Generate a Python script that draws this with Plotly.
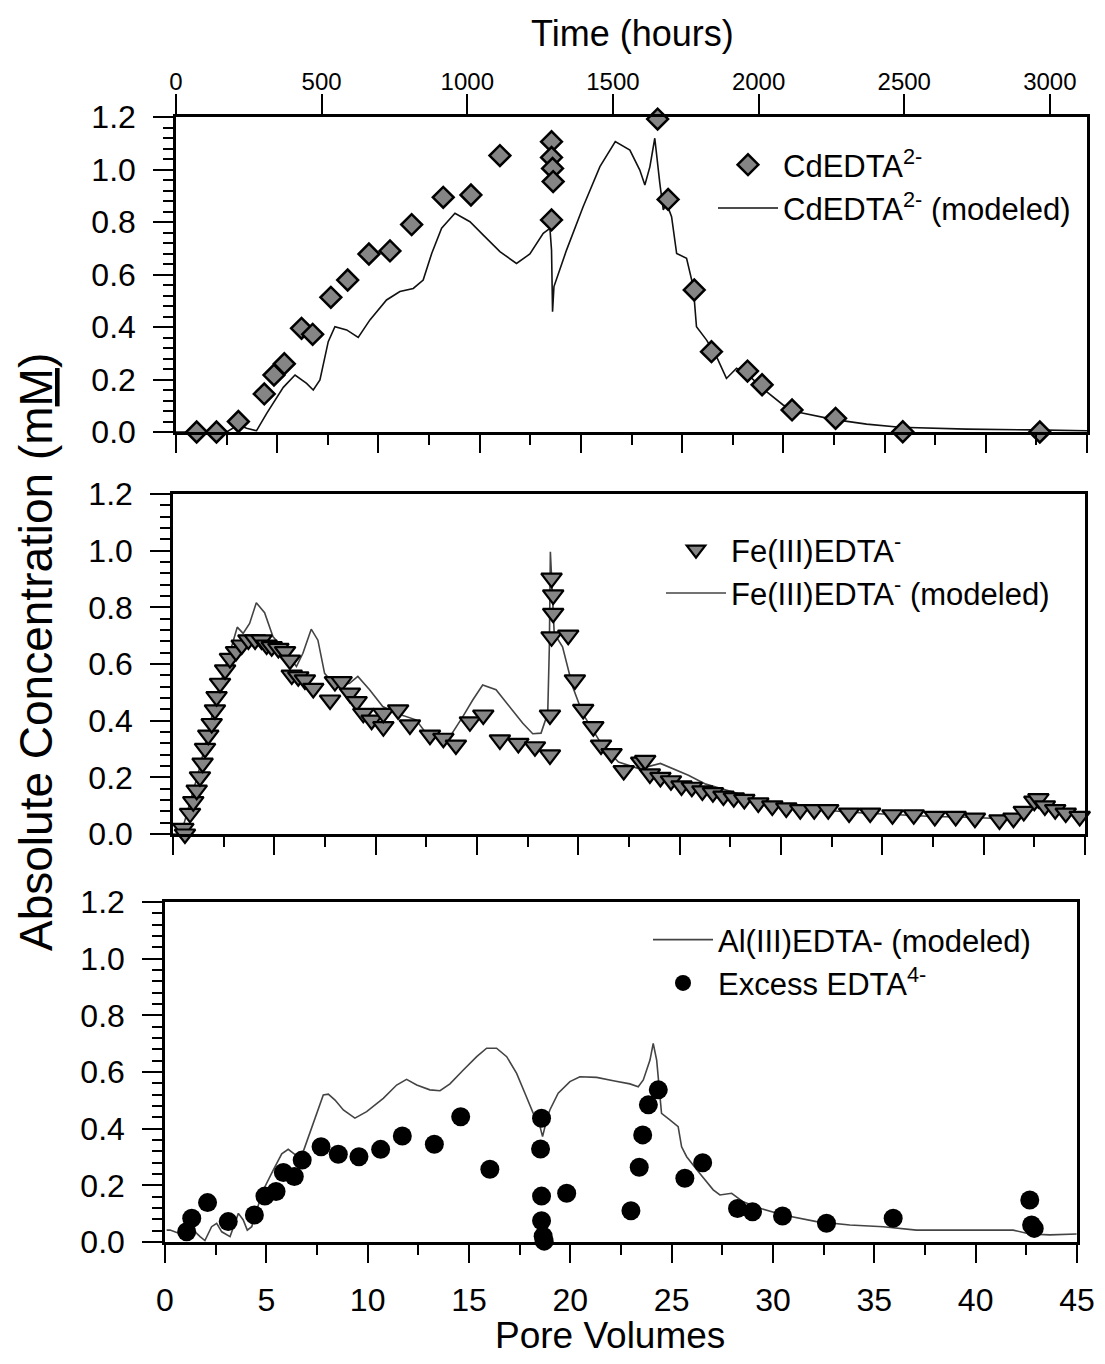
import plotly.graph_objects as go

# ---------------- data ----------------
# Top panel: CdEDTA2- observed
cd_pv = [1.02, 2.0, 3.08, 4.36, 4.84, 5.35, 6.2, 6.75, 7.65, 8.48, 9.53, 10.57, 11.64,
         13.2, 14.57, 16.0, 18.55, 18.55, 18.6, 18.63, 18.55, 23.79, 24.31, 25.6, 26.45,
         28.23, 28.95, 30.43, 32.58, 35.9, 42.67]
cd_obs = [0.0, 0.0, 0.04, 0.145, 0.217, 0.26, 0.395, 0.372, 0.513, 0.579, 0.678, 0.69, 0.79,
          0.894, 0.903, 1.053, 1.106, 1.046, 1.004, 0.954, 0.808, 1.192, 0.886, 0.541, 0.306,
          0.232, 0.18, 0.084, 0.052, 0.001, 0.0]

# Top panel: CdEDTA2- modeled
cdm_pv = [0.0, 2.5, 3.08, 3.49, 3.98, 4.48, 5.3, 5.88, 6.45, 6.78, 7.11, 7.52, 7.85, 8.43, 9.0,
          9.58, 10.4, 11.06, 11.72, 12.21, 12.63, 13.12, 13.78, 14.52, 15.18, 16.0, 16.82,
          17.48, 18.14, 18.47, 18.55, 18.6, 18.67, 18.88, 19.29, 20.11, 20.94, 21.7, 22.42,
          22.91, 23.16, 23.41, 23.65, 23.9, 24.07, 24.23, 24.48, 24.73, 25.22, 25.55, 25.71,
          26.21, 26.7, 27.19, 27.69, 28.35, 29.17, 29.99, 30.81, 32.46, 34.11, 35.75, 39.05,
          42.34, 45.0]
cdm_val = [0.0, 0.0, 0.027, 0.014, 0.005, 0.071, 0.17, 0.217, 0.185, 0.16, 0.198, 0.344, 0.401,
           0.389, 0.36, 0.427, 0.503, 0.535, 0.547, 0.579, 0.68, 0.776, 0.833, 0.801, 0.75, 0.687,
           0.642, 0.678, 0.757, 0.776, 0.693, 0.458, 0.554, 0.604, 0.693, 0.858, 1.011, 1.106,
           1.074, 0.998, 0.941, 1.011, 1.119, 0.947, 0.846, 0.871, 0.82, 0.68, 0.662, 0.554,
           0.401, 0.35, 0.287, 0.204, 0.243, 0.211, 0.154, 0.103, 0.074, 0.048, 0.03, 0.018,
           0.011, 0.008, 0.005]

# Middle panel: Fe(III)EDTA- observed
fe_pv = [0.51, 0.59, 0.84, 1.0, 1.17, 1.33, 1.46, 1.58, 1.74, 1.91, 2.07, 2.15, 2.32, 2.57,
         2.81, 3.11, 3.39, 3.72, 4.05, 4.37, 4.62, 4.87, 5.2, 5.53, 5.77, 5.86, 6.18, 6.51,
         6.92, 7.75, 7.99, 8.32, 8.73, 9.06, 9.39, 9.8, 10.38, 10.38, 11.11, 11.69, 12.68,
         13.34, 13.96, 14.65, 15.31, 16.13, 17.04, 17.86, 18.6, 18.6, 18.68, 18.76, 18.76,
         18.68, 19.5, 19.83, 20.24, 20.74, 21.12, 21.64, 22.24, 23.1, 23.3, 23.53, 24.05,
         24.57, 25.09, 25.6, 26.12, 26.64, 27.16, 27.67, 28.19, 28.88, 29.57, 30.26, 30.95,
         31.64, 32.33, 33.36, 34.4, 35.5, 36.55, 37.59, 38.62, 39.57, 40.78, 41.47, 41.98,
         42.5, 42.7, 43.02, 43.53, 44.05, 44.74]
fe_obs = [0.02, 0.0, 0.073, 0.114, 0.155, 0.202, 0.25, 0.302, 0.349, 0.39, 0.438, 0.485, 0.532,
          0.579, 0.62, 0.644, 0.667, 0.685, 0.685, 0.685, 0.667, 0.661, 0.655, 0.644, 0.614,
          0.561, 0.555, 0.544, 0.514, 0.473, 0.538, 0.538, 0.497, 0.467, 0.426, 0.402, 0.379,
          0.426, 0.438, 0.385, 0.349, 0.338, 0.314, 0.396, 0.42, 0.332, 0.32, 0.308, 0.279,
          0.42, 0.696, 0.779, 0.844, 0.903, 0.702, 0.544, 0.44, 0.379, 0.314, 0.284, 0.224,
          0.254, 0.26, 0.212, 0.2, 0.188, 0.17, 0.165, 0.152, 0.146, 0.134, 0.128, 0.122, 0.11,
          0.099, 0.092, 0.086, 0.086, 0.086, 0.074, 0.074, 0.068, 0.068, 0.062, 0.062, 0.056,
          0.05, 0.056, 0.08, 0.116, 0.125, 0.099, 0.086, 0.074, 0.062]

# Middle panel: Fe(III)EDTA- modeled
fem_pv = [0.0, 0.4, 1.33, 2.15, 2.89, 3.17, 3.46, 3.78, 4.11, 4.52, 4.93, 5.43, 6.09, 6.41,
          6.82, 7.15, 7.48, 8.05, 8.71, 9.12, 9.7, 10.35, 11.01, 11.99, 12.49, 13.15, 13.72,
          14.3, 14.79, 15.28, 15.94, 16.6, 17.26, 17.75, 18.16, 18.49, 18.57, 18.62, 18.73,
          18.81, 19.22, 19.72, 20.21, 21.12, 21.98, 23.02, 24.05, 25.09, 25.43, 26.29, 27.5,
          28.88, 30.6, 32.33, 34.05, 35.78, 37.5, 39.22, 40.95, 41.47, 42.16, 42.67, 43.19,
          44.05, 45.0]
fem_val = [0.0, 0.0, 0.237, 0.485, 0.661, 0.73, 0.708, 0.743, 0.816, 0.781, 0.697, 0.655, 0.591,
           0.638, 0.723, 0.684, 0.567, 0.52, 0.532, 0.556, 0.509, 0.45, 0.426, 0.403, 0.356,
           0.35, 0.35, 0.414, 0.473, 0.526, 0.509, 0.45, 0.391, 0.354, 0.356, 0.426, 0.661,
           0.996, 0.802, 0.708, 0.661, 0.52, 0.426, 0.32, 0.254, 0.23, 0.249, 0.219, 0.207,
           0.176, 0.152, 0.122, 0.099, 0.083, 0.074, 0.068, 0.062, 0.059, 0.054, 0.056, 0.083,
           0.107, 0.097, 0.074, 0.056]

# Bottom panel: Al(III)EDTA- modeled
al_pv = [0.08, 0.25, 0.9, 1.4, 1.73, 1.97, 2.3, 2.55, 2.8, 3.21, 3.62, 3.86, 4.06, 4.28, 4.52,
         4.93, 5.34, 5.76, 6.08, 6.5, 6.82, 7.15, 7.48, 7.81, 8.06, 8.39, 8.8, 9.37, 9.95,
         10.77, 11.43, 11.92, 12.42, 13.07, 13.57, 14.06, 14.72, 15.38, 15.87, 16.36, 16.86,
         17.35, 17.76, 18.17, 18.42, 18.63, 18.83, 18.99, 19.4, 19.98, 20.47, 21.3, 22.12,
         22.94, 23.35, 23.6, 23.93, 24.09, 24.26, 24.42, 24.5, 24.91, 25.32, 25.49, 25.74,
         26.39, 27.05, 27.38, 27.96, 28.53, 29.35, 30.5, 32.15, 33.79, 35.44, 37.08, 39.55,
         41.85, 42.67, 43.66, 44.98]
al_val = [0.042, 0.042, 0.025, 0.042, 0.019, 0.005, 0.054, 0.066, 0.036, 0.019, 0.101, 0.078,
          0.042, 0.054, 0.113, 0.195, 0.254, 0.311, 0.327, 0.304, 0.319, 0.384, 0.454, 0.519,
          0.522, 0.501, 0.466, 0.437, 0.46, 0.507, 0.554, 0.574, 0.554, 0.537, 0.534, 0.558,
          0.607, 0.654, 0.684, 0.684, 0.654, 0.595, 0.525, 0.454, 0.431, 0.372, 0.431, 0.466,
          0.525, 0.566, 0.583, 0.581, 0.569, 0.558, 0.548, 0.572, 0.642, 0.701, 0.642, 0.525,
          0.454, 0.431, 0.407, 0.336, 0.301, 0.242, 0.184, 0.166, 0.172, 0.142, 0.119, 0.095,
          0.072, 0.06, 0.054, 0.042, 0.042, 0.042, 0.028, 0.025, 0.028]

# Bottom panel: Excess EDTA4- observed
ex_pv = [1.07, 1.32, 2.1, 3.12, 4.41, 4.93, 5.48, 5.84, 6.38, 6.77, 7.7, 8.55, 9.57, 10.64,
         11.71, 13.29, 14.59, 16.03, 18.58, 18.53, 18.58, 18.58, 18.66, 18.71, 19.82, 22.99,
         23.4, 23.57, 23.85, 24.34, 25.65, 26.53, 28.25, 28.99, 30.47, 32.64, 35.93, 42.67,
         42.76, 42.89]
ex_obs = [0.036, 0.084, 0.139, 0.072, 0.095, 0.162, 0.178, 0.245, 0.231, 0.289, 0.336, 0.31,
          0.301, 0.327, 0.374, 0.345, 0.442, 0.257, 0.437, 0.328, 0.162, 0.075, 0.02, 0.003,
          0.172, 0.11, 0.264, 0.378, 0.484, 0.537, 0.225, 0.28, 0.118, 0.107, 0.092, 0.066,
          0.084, 0.148, 0.06, 0.048]

# axes
pv_range = [0, 45]
hours_per_pv = 69.5
conc_range = [0, 1.2]
time_ticks = [0, 500, 1000, 1500, 2000, 2500, 3000]

# ---------------- layout helpers ----------------
# page body has an 8px margin; figure sized to fit the window
W, H = 1089, 1348
OFF = 8
def fx(p):
    return (p - OFF) / W
def fy(p):
    return 1 - (p - OFF) / H

FONT = "Arial, Liberation Sans, Helvetica, sans-serif"

fig = go.Figure()

gray = "#858585"

# top panel
fig.add_trace(go.Scatter(x=cdm_pv, y=cdm_val, mode="lines", name="CdEDTA<sup>2-</sup> (modeled)",
                         line=dict(color="#111111", width=1.6), xaxis="x", yaxis="y",
                         legend="legend", legendrank=2))
fig.add_trace(go.Scatter(x=cd_pv, y=cd_obs, mode="markers", name="CdEDTA<sup>2-</sup>",
                         marker=dict(symbol="diamond", size=16, color=gray,
                                     line=dict(color="black", width=2.5)),
                         cliponaxis=False, xaxis="x", yaxis="y", legend="legend", legendrank=1))
# time axis carrier (hours scale of the top panel)
fig.add_trace(go.Scatter(x=time_ticks, y=[0] * len(time_ticks), mode="markers",
                         marker=dict(opacity=0, size=1), hoverinfo="skip", showlegend=False,
                         xaxis="x4", yaxis="y"))
# middle panel
fig.add_trace(go.Scatter(x=fem_pv, y=fem_val, mode="lines", name="Fe(III)EDTA<sup>-</sup> (modeled)",
                         line=dict(color="#444444", width=1.6), xaxis="x2", yaxis="y2",
                         legend="legend2", legendrank=2))
fig.add_trace(go.Scatter(x=fe_pv, y=fe_obs, mode="markers", name="Fe(III)EDTA<sup>-</sup>",
                         marker=dict(symbol="triangle-down", size=18, color=gray,
                                     line=dict(color="black", width=2.2)),
                         cliponaxis=False, xaxis="x2", yaxis="y2", legend="legend2", legendrank=1))
# bottom panel
fig.add_trace(go.Scatter(x=al_pv, y=al_val, mode="lines", name="Al(III)EDTA- (modeled)",
                         line=dict(color="#444444", width=1.6), xaxis="x3", yaxis="y3",
                         legend="legend3", legendrank=1))
fig.add_trace(go.Scatter(x=ex_pv, y=ex_obs, mode="markers", name="Excess EDTA<sup>4-</sup>",
                         marker=dict(symbol="circle", size=19, color="black"),
                         cliponaxis=False, xaxis="x3", yaxis="y3", legend="legend3", legendrank=2))

axis_line = dict(showline=True, linecolor="black", linewidth=2.5, mirror=True,
                 ticks="outside", tickcolor="black", tickwidth=2, showgrid=False,
                 zeroline=False)

def xax(dom, labels):
    d = dict(axis_line)
    d.update(domain=dom, range=pv_range, tick0=0, dtick=5, ticklen=18,
             showticklabels=labels, tickfont=dict(family=FONT, size=32, color="black"),
             ticklabelstandoff=10,
             minor=dict(dtick=2.5, tick0=0, ticklen=10, tickwidth=2, tickcolor="black",
                        ticks="outside", showgrid=False))
    return d

def yax(dom, anchor):
    d = dict(axis_line)
    d.update(domain=dom, range=conc_range, tick0=0, dtick=0.2, ticklen=20, tickformat=".1f",
             anchor=anchor, tickfont=dict(family=FONT, size=32, color="black"),
             ticklabelstandoff=11,
             minor=dict(dtick=0.04, tick0=0, ticklen=10, tickwidth=2, tickcolor="black",
                        ticks="outside", showgrid=False))
    return d

xa1 = xax([fx(176), fx(1087)], False); xa1["anchor"] = "y"
xa2 = xax([fx(173), fx(1085)], False); xa2["anchor"] = "y2"
xa3 = xax([fx(165), fx(1077)], True); xa3["anchor"] = "y3"
ya1 = yax([fy(432), fy(117)], "x")
ya2 = yax([fy(834), fy(494)], "x2")
ya3 = yax([fy(1242), fy(902)], "x3")

xa4 = dict(overlaying="x", side="top", anchor="y", range=[0, pv_range[1] * hours_per_pv],
           tickvals=time_ticks, ticks="outside", ticklen=20, tickwidth=2, tickcolor="black",
           showline=True, linecolor="black", linewidth=2.5, showgrid=False, zeroline=False,
           tickfont=dict(family=FONT, size=24, color="black"), ticklabelstandoff=-5)

legend_common = dict(bgcolor="rgba(0,0,0,0)", borderwidth=0,
                     font=dict(family=FONT, size=31, color="black"),
                     xanchor="left", yanchor="top", tracegroupgap=0, itemwidth=60)

fig.update_layout(
    width=W, height=H, margin=dict(l=0, r=0, t=0, b=0, autoexpand=False),
    paper_bgcolor="white", plot_bgcolor="white",
    xaxis=xa1, yaxis=ya1, xaxis2=xa2, yaxis2=ya2, xaxis3=xa3, yaxis3=ya3, xaxis4=xa4,
    showlegend=True,
    legend=dict(legend_common, x=fx(713), y=fy(138)),
    legend2=dict(legend_common, x=fx(661), y=fy(523)),
    legend3=dict(legend_common, x=fx(648), y=fy(913)),
    annotations=[
        dict(text="Time (hours)", x=fx(632), y=fy(33), xref="paper", yref="paper",
             showarrow=False, xanchor="center", yanchor="middle",
             font=dict(family=FONT, size=36, color="black")),
        dict(text="Pore Volumes", x=fx(610), y=fy(1335), xref="paper", yref="paper",
             showarrow=False, xanchor="center", yanchor="middle",
             font=dict(family=FONT, size=37, color="black")),
        dict(text="Absolute Concentration (m<u>M</u>)", x=fx(36), y=fy(652), xref="paper",
             yref="paper", showarrow=False, textangle=-90, xanchor="center", yanchor="middle",
             font=dict(family=FONT, size=46, color="black")),
    ],
)

fig.write_html("out.html")
